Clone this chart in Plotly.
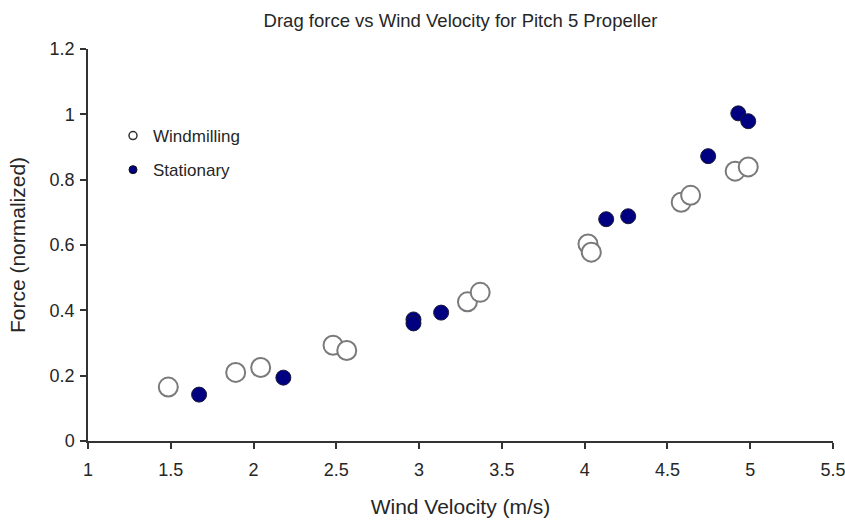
import plotly.graph_objects as go

wind_x = [1.485, 1.892, 2.043, 2.48, 2.563, 3.292, 3.369, 4.02, 4.04, 4.583, 4.64, 4.909, 4.988]
wind_y = [0.165, 0.21, 0.225, 0.293, 0.277, 0.426, 0.455, 0.603, 0.578, 0.731, 0.752, 0.826, 0.839]

stat_x = [1.671, 2.18, 2.966, 2.966, 3.133, 4.13, 4.263, 4.746, 4.928, 4.988]
stat_y = [0.142, 0.194, 0.372, 0.36, 0.393, 0.679, 0.688, 0.872, 1.003, 0.979]

x_ticks = [1, 1.5, 2, 2.5, 3, 3.5, 4, 4.5, 5, 5.5]
y_ticks = [0, 0.2, 0.4, 0.6, 0.8, 1, 1.2]

FONT = "Liberation Sans"
TXT = "#262626"
fig = go.Figure()
fig.add_trace(go.Scatter(x=wind_x, y=wind_y, mode="markers", showlegend=False,
                         marker=dict(size=19, color="white", line=dict(color="#7a7a7a", width=2))))
fig.add_trace(go.Scatter(x=stat_x, y=stat_y, mode="markers", showlegend=False,
                         marker=dict(size=15, color="#000080", line=dict(color="#1a1a3a", width=1))))
# legend entries
fig.add_trace(go.Scatter(x=[None], y=[None], mode="markers", name="Windmilling", legendgroup="a",
                         marker=dict(size=8, color="white", line=dict(color="#333", width=1.5))))
fig.add_trace(go.Scatter(x=[None], y=[None], mode="markers", name="Stationary", legendgroup="b",
                         marker=dict(size=8, color="#000080", line=dict(color="#111", width=1))))

fig.update_layout(
    width=845, height=523,
    margin=dict(l=88, r=12, t=49, b=82),
    paper_bgcolor="white", plot_bgcolor="white",
    font=dict(family=FONT, color=TXT),
    title=dict(text="Drag force vs Wind Velocity for Pitch 5 Propeller", x=0.5, xref="paper",
               y=1 - 21 / 523, yref="container", xanchor="center", yanchor="middle",
               font=dict(size=18.5, family=FONT, color=TXT)),
    legend=dict(x=(113 - 88) / 745, y=(441 - 118) / 392, xanchor="left", yanchor="top",
                bgcolor="rgba(0,0,0,0)", font=dict(size=17, family=FONT, color=TXT),
                traceorder="grouped", tracegroupgap=9, itemwidth=30),
    xaxis=dict(range=[1, 5.5], tickvals=x_ticks, ticktext=[f"{v:g}" for v in x_ticks],
               showgrid=False, zeroline=False, showline=True, linecolor="#333", linewidth=1.5,
               ticks="outside", ticklen=6, tickcolor="#333", tickwidth=1.5, automargin=False,
               ticklabelstandoff=6, ticklabeloverflow="allow",
               tickfont=dict(size=18, family=FONT, color=TXT),
               title=dict(text="Wind Velocity (m/s)", font=dict(size=21, family=FONT, color=TXT), standoff=20)),
    yaxis=dict(range=[0, 1.2], tickvals=y_ticks, ticktext=[f"{v:g}" for v in y_ticks],
               showgrid=False, zeroline=False, showline=True, linecolor="#333", linewidth=1.5,
               ticks="outside", ticklen=6, tickcolor="#333", tickwidth=1.5, automargin=False,
               ticklabelstandoff=2,
               tickfont=dict(size=18, family=FONT, color=TXT),
               title=dict(text="Force (normalized)", font=dict(size=21, family=FONT, color=TXT), standoff=18)),
)
fig.write_html("out.html")
